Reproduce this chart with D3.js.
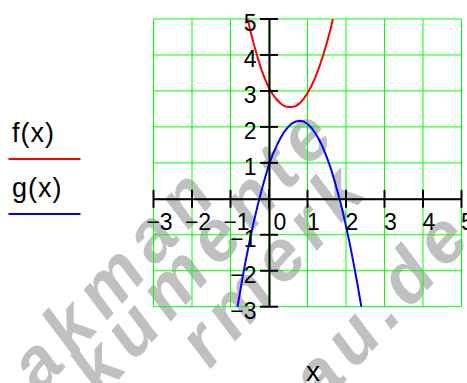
<!DOCTYPE html>
<html>
<head>
<meta charset="utf-8">
<script src="https://cdn.jsdelivr.net/npm/d3@7"></script>
<style>
  html, body { margin: 0; padding: 0; background: #fff; }
  svg { display: block; }
</style>
</head>
<body>
<svg id="chart" width="467" height="383"></svg>
<script>
// Axis ranges and tick labels
const xTicks = [-3, -2, -1, 0, 1, 2, 3, 4, 5];
const yTicks = [-3, -2, -1, 1, 2, 3, 4, 5];
const xDomain = [-3, 5];
const yDomain = [-3, 5];

// f(x): sampled values
const fX = [-0.55, -0.5, -0.4, -0.3, -0.2, -0.1, 0, 0.1, 0.2, 0.3, 0.4, 0.5, 0.6, 0.7, 0.8, 0.9, 1.0, 1.1, 1.2, 1.3, 1.4, 1.5, 1.6, 1.66];
const fY = [5.0, 4.74, 4.32, 3.95, 3.6, 3.32, 3.08, 2.9, 2.76, 2.65, 2.58, 2.55, 2.55, 2.58, 2.66, 2.78, 2.94, 3.13, 3.37, 3.65, 3.97, 4.33, 4.72, 5.0];

// g(x): sampled values
const gX = [-0.82, -0.8, -0.7, -0.6, -0.5, -0.4, -0.3, -0.2, -0.1, 0, 0.1, 0.2, 0.3, 0.4, 0.5, 0.6, 0.7, 0.8, 0.9, 1.0, 1.1, 1.2, 1.3, 1.4, 1.5, 1.6, 1.7, 1.8, 1.9, 2.0, 2.1, 2.2, 2.3, 2.4];
const gY = [-3.01, -2.89, -2.27, -1.69, -1.16, -0.66, -0.21, 0.21, 0.59, 0.95, 1.24, 1.48, 1.69, 1.87, 2.0, 2.1, 2.15, 2.17, 2.15, 2.08, 1.98, 1.83, 1.65, 1.43, 1.16, 0.86, 0.51, 0.13, -0.29, -0.76, -1.26, -1.81, -2.39, -3.01];

// Legend entries
const legendLabels = ["f(x)", "g(x)"];
const seriesColors = ["#ff0000", "#0000ff"];

// Background lettering
const stampLines = ["akman", "kumente", "rmerk", "r.au.de"];

const svg = d3.select("#chart");
const plot = { left: 153.5, right: 461.5, top: 19, bottom: 306.7 };

const x = d3.scaleLinear().domain(xDomain).range([plot.left, plot.right]);
const y = d3.scaleLinear().domain(yDomain).range([plot.bottom, plot.top]);

// Diagonal gray lettering behind the plot
const stampPos = [[40.5, 394.5], [101.5, 398.5], [209.5, 370], [280.5, 453]];
const stamp = svg.append("g");
stampLines.forEach((t, i) => {
  stamp.append("text")
    .attr("transform", `translate(${stampPos[i][0]},${stampPos[i][1]}) rotate(-48)`)
    .attr("font-family", "Liberation Sans, Arial, sans-serif")
    .attr("font-weight", "bold")
    .attr("font-style", "italic")
    .attr("font-size", 72)
    .attr("letter-spacing", 9)
    .attr("fill", "#c0c0c0")
    .text(t);
});

// Grid
const grid = svg.append("g").attr("stroke", "#00ff00").attr("stroke-width", 1);
grid.selectAll("line.v").data(xTicks).join("line")
  .attr("x1", d => x(d)).attr("x2", d => x(d))
  .attr("y1", plot.top).attr("y2", plot.bottom);
grid.selectAll("line.h").data(d3.range(yDomain[0], yDomain[1] + 1)).join("line")
  .attr("y1", d => y(d)).attr("y2", d => y(d))
  .attr("x1", plot.left).attr("x2", plot.right);

// Curves, clipped to the plot box
svg.append("clipPath").attr("id", "clip").append("rect")
  .attr("x", plot.left).attr("y", plot.top)
  .attr("width", plot.right - plot.left).attr("height", plot.bottom - plot.top);

const line = d3.line().x(d => x(d[0])).y(d => y(d[1]));
const curves = [d3.zip(fX, fY), d3.zip(gX, gY)];
svg.append("g").attr("clip-path", "url(#clip)")
  .selectAll("path").data(curves).join("path")
  .attr("d", line)
  .attr("fill", "none")
  .attr("stroke", (d, i) => seriesColors[i])
  .attr("stroke-width", 2);

// Axes crossing at the origin
const xAxis = d3.axisBottom(x).tickValues(xTicks).tickSize(0).tickFormat("");
const yAxis = d3.axisLeft(y).tickValues(yTicks.concat([0])).tickSize(0).tickFormat("");
const gx = svg.append("g").attr("transform", `translate(0,${y(0)})`).call(xAxis);
const gy = svg.append("g").attr("transform", `translate(${x(0)},0)`).call(yAxis);
[gx, gy].forEach(g => g.select(".domain").attr("stroke", "#000").attr("stroke-width", 2));

// Tick marks across the axes
svg.append("g").selectAll("line").data(xTicks).join("line")
  .attr("x1", d => x(d)).attr("x2", d => x(d))
  .attr("y1", y(0) - 9).attr("y2", y(0) + 9)
  .attr("stroke", "#000").attr("stroke-width", 2);
svg.append("g").selectAll("line").data(yTicks).join("line")
  .attr("y1", d => y(d)).attr("y2", d => y(d))
  .attr("x1", x(0) - 9).attr("x2", x(0) + 9)
  .attr("stroke", "#000").attr("stroke-width", 2);

const fmt = d => (d < 0 ? "\u2212" + Math.abs(d) : String(d));

// Tick labels
svg.append("g").selectAll("text").data(xTicks).join("text")
  .attr("x", d => x(d) + (d === 0 ? 11 : 6))
  .attr("y", y(0) + 31)
  .attr("text-anchor", "middle")
  .attr("font-family", "Liberation Sans, Arial, sans-serif")
  .attr("font-size", 23)
  .attr("fill", "#000")
  .text(fmt);
svg.append("g").selectAll("text").data(yTicks).join("text")
  .attr("x", x(0) - 12.5)
  .attr("y", d => y(d) + 12)
  .attr("text-anchor", "end")
  .attr("font-family", "Liberation Sans, Arial, sans-serif")
  .attr("font-size", 23)
  .attr("fill", "#000")
  .text(fmt);

// Axis title
svg.append("text")
  .attr("x", 313).attr("y", 381)
  .attr("text-anchor", "middle")
  .attr("font-family", "Liberation Sans, Arial, sans-serif")
  .attr("font-size", 28)
  .attr("fill", "#000")
  .text("x");

// Legend
const legend = svg.append("g");
legendLabels.forEach((t, i) => {
  const base = 141.5 + i * 55;
  legend.append("text")
    .attr("x", 12).attr("y", base)
    .attr("font-family", "Liberation Sans, Arial, sans-serif")
    .attr("font-size", 27)
    .attr("letter-spacing", 1)
    .attr("fill", "#000")
    .text(t);
  legend.append("line")
    .attr("x1", 8.5).attr("x2", 80.5)
    .attr("y1", base + 17.5).attr("y2", base + 17.5)
    .attr("stroke", seriesColors[i]).attr("stroke-width", 2);
});
</script>
</body>
</html>
